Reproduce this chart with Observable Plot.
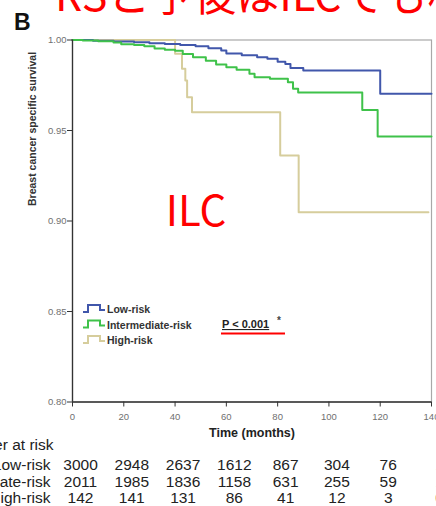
<!DOCTYPE html>
<html><head><meta charset="utf-8">
<script src="https://cdn.jsdelivr.net/npm/d3@7"></script>
<script src="https://cdn.jsdelivr.net/npm/@observablehq/plot@0.6"></script>
<style>
body{margin:0;background:#fff;}
#wrap{position:relative;width:436px;height:506px;overflow:hidden;}
#overlay{position:absolute;left:0;top:0;pointer-events:none;}
</style></head><body>
<div id="wrap"><div id="chart"></div>
<svg id="overlay" width="436" height="506"></svg></div>
<script>
// Kaplan–Meier step data (time in months, survival)
const lowT = [0, 8, 16, 24, 30, 36, 42, 48, 53, 58, 60, 66, 72, 76, 80, 83, 85, 90, 120, 140];
const lowS = [1, 0.9996, 0.9992, 0.9988, 0.9982, 0.9978, 0.9972, 0.9965, 0.9955, 0.9942, 0.9925, 0.9916, 0.9905, 0.9896, 0.988, 0.9868, 0.9845, 0.9831, 0.9703, 0.9703];
const intT = [0, 4, 10, 16, 19, 24, 28, 32, 36, 40, 43, 47, 52, 56, 60, 64, 69, 71, 77, 84, 86, 88, 113, 119, 140];
const intS = [1, 0.9997, 0.9993, 0.9986, 0.9977, 0.9972, 0.9966, 0.9953, 0.9946, 0.994, 0.9922, 0.9905, 0.9885, 0.9865, 0.985, 0.9835, 0.9813, 0.9794, 0.9786, 0.9767, 0.973, 0.971, 0.9613, 0.9467, 0.9467];
const highT = [0, 40, 42.7, 44, 44.7, 46.6, 81, 88.2, 138.8];
const highS = [1, 0.9924, 0.9841, 0.9776, 0.9684, 0.9601, 0.9362, 0.9049, 0.9049];

const groups = ["Low-risk", "Intermediate-risk", "High-risk"];
const groupColors = ["#4157ab", "#3fc24a", "#d6cd9c"];

const riskTimes = [0, 20, 40, 60, 80, 100, 120, 140];
const riskLow = [3000, 2948, 2637, 1612, 867, 304, 76, 1];
const riskInt = [2011, 1985, 1836, 1158, 631, 255, 59, 1];
const riskHigh = [142, 141, 131, 86, 41, 12, 3, 0];
const riskLabels = ["Low-risk", "Intermediate-risk", "High-risk"];

const xTicks = [0, 20, 40, 60, 80, 100, 120, 140];
const yTicks = [0.80, 0.85, 0.90, 0.95, 1.00];

const toRows = (T, S) => T.map((t, i) => ({t, s: S[i]}));
const lowRows = toRows(lowT, lowS);
const intRows = toRows(intT, intS);
const highRows = toRows(highT, highS);

const tableFont = 15.5;
const rowDy = [68, 84.5, 101];
const riskSets = [riskLow, riskInt, riskHigh];

const tableMarks = [];
riskSets.forEach((vals, r) => {
  tableMarks.push(Plot.text(riskTimes, {x: d => d, text: (d, i) => String(vals[i]), frameAnchor: "bottom", dy: rowDy[r], dx: 8, fontSize: tableFont, fill: "#222"}));
  tableMarks.push(Plot.text([riskLabels[r]], {text: d => d, frameAnchor: "bottom-left", dx: -22, dy: rowDy[r], textAnchor: "end", fontSize: tableFont, fill: "#222"}));
});
tableMarks.push(Plot.text(["Number at risk"], {text: d => d, frameAnchor: "bottom-left", dx: -19, dy: 47.5, textAnchor: "end", fontSize: tableFont, fill: "#222"}));

const chart = Plot.plot({
  width: 436, height: 506,
  marginLeft: 72, marginRight: 5, marginTop: 39.5, marginBottom: 104.5,
  x: {domain: [0, 140]},
  y: {domain: [0.8, 1.0]},
  style: {fontFamily: "'Liberation Sans', Arial, sans-serif", background: "transparent"},
  marks: [
    Plot.frame({stroke: "#a8a8a8", strokeWidth: 1.2}),
    Plot.line(highRows, {x: "t", y: "s", curve: "step-after", stroke: groupColors[2], strokeWidth: 2}),
    Plot.line(lowRows, {x: "t", y: "s", curve: "step-after", stroke: groupColors[0], strokeWidth: 2}),
    Plot.line(intRows, {x: "t", y: "s", curve: "step-after", stroke: groupColors[1], strokeWidth: 2}),
    Plot.ruleX([0], {stroke: "#333", strokeWidth: 1.3}),
    Plot.ruleY([0.8], {stroke: "#333", strokeWidth: 1.3}),
    Plot.axisY({ticks: yTicks, tickSize: 5, tickFormat: () => "", color: "#333", label: null}),
    Plot.axisY({ticks: yTicks, tickSize: 0, tickPadding: 6, tickFormat: d3.format(".2f"), fontSize: 9.5, color: "#707070", label: null}),
    Plot.axisX({ticks: xTicks, tickSize: 5, tickFormat: () => "", color: "#333", label: null}),
    Plot.axisX({ticks: xTicks, tickSize: 0, tickPadding: 11, tickFormat: d => String(d), fontSize: 9.5, color: "#707070", label: null}),
    Plot.text(["Breast cancer specific survival"], {text: d => d, frameAnchor: "left", dx: -40, dy: -15, rotate: -90, fontSize: 10.5, fontWeight: "bold", fill: "#333"}),
    Plot.text(["Time (months)"], {text: d => d, frameAnchor: "bottom", dy: 35, fontSize: 12.5, fontWeight: "bold", fill: "#222"}),
    ...tableMarks
  ]
});
document.getElementById("chart").appendChild(chart);

// Annotations overlay
const ov = d3.select("#overlay");
ov.append("text").attr("x", 14).attr("y", 30).attr("font-family", "'Liberation Sans', Arial, sans-serif")
  .attr("font-weight", "bold").attr("font-size", 23).attr("fill", "#111").text("B");
ov.append("text").attr("x", 55).attr("y", 11).attr("font-family", "'Noto Sans CJK JP', sans-serif")
  .attr("font-size", 43).attr("fill", "#ff0000").text("RSと予後はILCでも相関");
ov.append("text").attr("x", 196).attr("y", 226).attr("text-anchor", "middle").attr("font-family", "'Noto Sans CJK JP', sans-serif")
  .attr("font-size", 42).attr("fill", "#ff0000").text("ILC");

const legBase = [313, 328.5, 344];
groups.forEach((g, i) => {
  const b = legBase[i];
  ov.append("path").attr("d", `M83,${b-1}H88V${b-8}H100V${b-3}H105`).attr("fill", "none")
    .attr("stroke", groupColors[i]).attr("stroke-width", 2);
  ov.append("text").attr("x", 107).attr("y", b).attr("font-family", "'Liberation Sans', Arial, sans-serif")
    .attr("font-weight", "bold").attr("font-size", 10.5).attr("fill", "#333").text(g);
});
ov.append("text").attr("x", 222).attr("y", 328).attr("font-family", "'Liberation Sans', Arial, sans-serif")
  .attr("font-weight", "bold").attr("font-size", 11).attr("fill", "#222").attr("text-decoration", "underline").text("P < 0.001");
ov.append("text").attr("x", 277).attr("y", 324).attr("font-family", "'Liberation Sans', Arial, sans-serif")
  .attr("font-weight", "bold").attr("font-size", 10).attr("fill", "#444").text("*");
ov.append("line").attr("x1", 221).attr("x2", 285).attr("y1", 333.5).attr("y2", 333.5)
  .attr("stroke", "#ff0000").attr("stroke-width", 2.2);
</script>
</body></html>
